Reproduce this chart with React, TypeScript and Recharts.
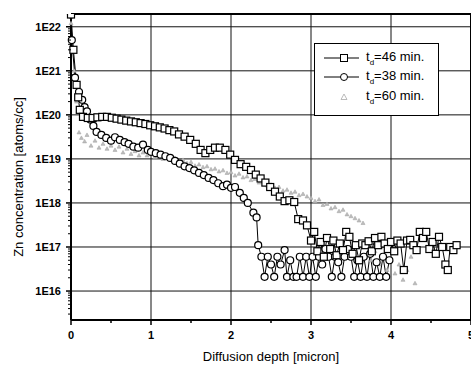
import React from "react";
import { ComposedChart, Line, Scatter, XAxis, YAxis, ReferenceLine, Legend } from "recharts";

// t_d = 46 min (squares)
const depth46 = [
  0, 0.03, 0.07, 0.09, 0.11, 0.15, 0.21, 0.27, 0.33, 0.39, 0.45, 0.51, 0.57, 0.63, 0.69, 0.75,
  0.81, 0.87, 0.93, 0.99, 1.05, 1.11, 1.17, 1.23, 1.29, 1.35, 1.42, 1.49, 1.56, 1.62, 1.68, 1.74,
  1.8, 1.86, 1.93, 1.99, 2.05, 2.12, 2.19, 2.25, 2.31, 2.37, 2.43, 2.49, 2.55, 2.61, 2.67, 2.73,
  2.79, 2.84, 2.9, 2.95, 3.0, 3.04, 3.08, 3.12, 3.16, 3.2, 3.24, 3.28, 3.32, 3.36, 3.4, 3.44,
  3.48, 3.52, 3.56, 3.6, 3.64, 3.68, 3.72, 3.76, 3.8, 3.84, 3.88, 3.92, 3.96, 4.0, 4.04, 4.08,
  4.12, 4.16, 4.2, 4.24, 4.28, 4.32, 4.36, 4.4, 4.44, 4.48, 4.52, 4.56, 4.6, 4.64, 4.68, 4.71,
  4.74, 4.78, 4.82,
];
const conc46 = [
  1.9e22, 3e21, 4.8e20, 2.5e20, 1.3e20, 9e19, 8.5e19, 8.5e19, 8.8e19, 9e19, 9e19, 8.6e19, 8.2e19, 7.8e19, 7.4e19, 7.1e19,
  6.8e19, 6.5e19, 6.2e19, 5.8e19, 5.5e19, 5.2e19, 4.9e19, 4.5e19, 4.2e19, 3.6e19, 3.2e19, 2.7e19, 2.2e19, 1.6e19, 1.35e19, 1.6e19,
  1.8e19, 1.8e19, 1.6e19, 1.25e19, 9.5e18, 7.6e18, 6.6e18, 5.6e18, 4.4e18, 3.6e18, 2.9e18, 2.3e18, 1.8e18, 1.4e18, 1.1e18, 1.15e18,
  1.05e18, 4.3e17, 4e17, 3.1e17, 1.4e17, 2.2e17, 8e16, 1.3e17, 6e16, 1.6e17, 9e16, 1.4e17, 6.5e16, 1.2e17, 8.5e16, 2.2e17,
  1.7e17, 7e16, 1.1e17, 5e16, 1.2e17, 1.1e17, 1.35e17, 8e16, 1.6e17, 1.1e17, 1.7e17, 1.2e17, 9e16, 1.3e17, 8e16, 1.4e17,
  1.2e17, 3e16, 1.4e17, 1.45e17, 1.1e17, 8.5e16, 2.2e17, 1.6e17, 2.2e17, 9e16, 1.3e17, 7e16, 1.7e17, 1e17, 4e16, 3e16,
  1e17, 8.5e16, 1.1e17,
];

// t_d = 38 min (circles)
const depth38 = [
  0, 0.01, 0.05, 0.1, 0.14, 0.17, 0.2, 0.24, 0.28, 0.32, 0.38, 0.44, 0.5, 0.55, 0.61, 0.67,
  0.72, 0.78, 0.84, 0.9, 0.96, 1.0, 1.06, 1.12, 1.18, 1.24, 1.3, 1.36, 1.42, 1.48, 1.54, 1.6,
  1.66, 1.72, 1.78, 1.84, 1.9, 1.95, 2.0, 2.05, 2.11, 2.16, 2.21, 2.28, 2.32, 2.34, 2.38, 2.42,
  2.46, 2.5, 2.54, 2.58, 2.62, 2.67, 2.7, 2.74, 2.78, 2.82, 2.86, 2.9, 2.94, 2.98, 3.02, 3.06,
  3.1, 3.14, 3.18, 3.22, 3.26, 3.3, 3.34, 3.38, 3.42, 3.46, 3.5, 3.54, 3.58, 3.62, 3.66, 3.7,
  3.74, 3.78, 3.82, 3.86, 3.9, 3.94, 3.98,
];
const conc38 = [
  1.9e22, 5e21, 7e20, 3.3e20, 2.2e20, 1.5e20, 1.2e20, 7.8e19, 5.6e19, 4.1e19, 3.5e19, 3e19, 2.6e19, 3.1e19, 2.7e19, 2.4e19,
  2.2e19, 1.9e19, 1.8e19, 2.1e19, 1.6e19, 1.45e19, 1.35e19, 1.25e19, 1.15e19, 1.05e19, 9e18, 7.8e18, 6.8e18, 6.2e18, 5.5e18, 4.8e18,
  4.3e18, 3.7e18, 3.3e18, 2.8e18, 2.4e18, 2.6e18, 2.2e18, 2.3e18, 1.7e18, 1.3e18, 1e18, 6e17, 4.7e17, 1.1e17, 6e16, 2.1e16,
  6e16, 4e16, 2.1e16, 6e16, 4e16, 8.5e16, 2.1e16, 5e16, 2.1e16, 2.1e16, 6e16, 2.1e16, 6e16, 2.1e16, 6e16, 2.1e16,
  6e16, 4e16, 9e16, 6e16, 2.1e16, 6e16, 4.5e16, 2.1e16, 6e16, 9e16, 6e16, 2.1e16, 5e16, 2.1e16, 6e16, 2.1e16,
  7e16, 2.1e16, 4.5e16, 2.1e16, 6e16, 2.1e16, 5e16,
];

// t_d = 60 min (triangles)
const depth60 = [
  0, 0.02, 0.04, 0.07, 0.1, 0.13, 0.17, 0.2, 0.25, 0.3, 0.35, 0.4, 0.45, 0.5, 0.55, 0.6,
  0.65, 0.7, 0.75, 0.8, 0.85, 0.9, 0.95, 1.0, 1.05, 1.1, 1.15, 1.2, 1.25, 1.3, 1.35, 1.4,
  1.45, 1.5, 1.55, 1.6, 1.65, 1.7, 1.75, 1.8, 1.85, 1.9, 1.95, 2.0, 2.05, 2.1, 2.15, 2.2,
  2.25, 2.3, 2.35, 2.4, 2.45, 2.5, 2.55, 2.6, 2.65, 2.7, 2.75, 2.8, 2.85, 2.9, 2.95, 3.0,
  3.05, 3.1, 3.15, 3.2, 3.25, 3.3, 3.35, 3.4, 3.45, 3.5, 3.55, 3.6, 3.65, 3.7, 3.75, 3.8,
  3.85, 3.9, 3.95, 4.0, 4.05, 4.1, 4.15, 4.2, 4.25, 4.3,
];
const conc60 = [
  1.2e22, 5e21, 1e21, 2e20, 4e19, 3e19, 2.5e19, 3.5e19, 2e19, 2.6e19, 1.8e19, 2.2e19, 1.7e19, 2e19, 1.6e19, 1.9e19,
  1.4e19, 1.7e19, 1.3e19, 1.5e19, 1.2e19, 1.4e19, 1.2e19, 1.3e19, 1.1e19, 1.25e19, 1e19, 1.15e19, 9.5e18, 1.05e19, 8.5e18, 9.5e18,
  8e18, 8.5e18, 7e18, 7.5e18, 6.5e18, 6.8e18, 5.8e18, 6e18, 5.2e18, 5.5e18, 4.8e18, 5e18, 4.2e18, 4.6e18, 3.8e18, 4e18,
  3.3e18, 3.5e18, 2.9e18, 3e18, 2.5e18, 2.6e18, 2.2e18, 2.3e18, 1.9e18, 2e18, 1.7e18, 1.8e18, 1.5e18, 1.6e18, 1.4e18, 1.3e18,
  1.1e18, 1.2e18, 9e17, 9.5e17, 7.5e17, 8e17, 6.5e17, 7e17, 5.5e17, 5e17, 4.5e17, 4e17, 3.5e17, 7e16, 5e16, 8e16,
  4e16, 6e16, 3e16, 5e16, 2.5e16, 4e16, 1.8e16, 3e16, 6e16, 1.5e16,
];

const xTicks = [0, 0.5, 1, 1.5, 2, 2.5, 3, 3.5, 4, 4.5, 5];
const xGrid = [1, 2, 3, 4];
const yDecades = [1e16, 1e17, 1e18, 1e19, 1e20, 1e21, 1e22];

const Y_MIN = 2.2e15;
const Y_MAX = 1.95e22;

const yTicks: number[] = [];
for (let n = 15; n <= 22; n++) {
  for (let k = 1; k <= 9; k++) {
    const v = k * Math.pow(10, n);
    if (v >= Y_MIN && v <= Y_MAX) yTicks.push(v);
  }
}

const zip = (xs: number[], ys: number[]) => xs.map((x, i) => ({ x, v: ys[i] }));
const data46 = zip(depth46, conc46);
const data38 = zip(depth38, conc38);
const data60 = zip(depth60, conc60);

const YTick = (props: any) => {
  const { x, y, payload } = props;
  const lg = Math.log10(payload.value);
  const major = Math.abs(lg - Math.round(lg)) < 1e-6;
  const ax = x + 10;
  return (
    <g>
      <line x1={ax - (major ? 5 : 3)} x2={ax} y1={y} y2={y} stroke="#000" strokeWidth={major ? 1.5 : 1} />
      {major && (
        <text x={x} y={y} dy="0.35em" textAnchor="end" fontSize={11} fontWeight="bold" fill="#000">
          {`1E${Math.round(lg)}`}
        </text>
      )}
    </g>
  );
};

const XTick = (props: any) => {
  const { x, y, payload } = props;
  const major = Number.isInteger(payload.value);
  const ay = y - 11;
  return (
    <g>
      <line x1={x} x2={x} y1={ay} y2={ay + (major ? 5 : 3)} stroke="#000" strokeWidth={1.5} />
      {major && (
        <text x={x} y={y} dy="0.71em" textAnchor="middle" fontSize={11} fontWeight="bold" fill="#000">
          {payload.value}
        </text>
      )}
    </g>
  );
};

const SquareDot = (p: any) => (
  <rect key={`s${p.index}`} x={p.cx - 3.5} y={p.cy - 3.5} width={7} height={7} fill="#fff" stroke="#000" strokeWidth={1.2} />
);

const CircleDot = (p: any) => (
  <circle key={`c${p.index}`} cx={p.cx} cy={p.cy} r={3.5} fill="#fff" stroke="#000" strokeWidth={1.2} />
);

const TriangleShape = (p: any) => (
  <path d={`M${p.cx},${p.cy - 2} L${p.cx + 2},${p.cy + 1.5} L${p.cx - 2},${p.cy + 1.5} Z`} fill="#bdbdbd" stroke="#a8a8a8" strokeWidth={0.6} />
);

const legendRows = [
  { label: "=46 min.", kind: "square" },
  { label: "=38 min.", kind: "circle" },
  { label: "=60 min.", kind: "triangle" },
];

const LegendBox = () => (
  <div
    style={{
      width: 123,
      height: 67,
      border: "1px solid #000",
      background: "#fff",
      paddingTop: 4,
      boxSizing: "content-box",
      fontSize: 13,
      color: "#000",
    }}
  >
    {legendRows.map((r) => (
      <div key={r.label} style={{ display: "flex", alignItems: "center", height: 19.5 }}>
        <svg width={50} height={14} style={{ flex: "none" }}>
          {r.kind !== "triangle" && <line x1={9} x2={44} y1={7} y2={7} stroke="#000" strokeWidth={1} />}
          {r.kind === "square" && <rect x={25.5} y={3.5} width={7} height={7} fill="#fff" stroke="#000" />}
          {r.kind === "circle" && <circle cx={29} cy={7} r={3.5} fill="#fff" stroke="#000" />}
          {r.kind === "triangle" && (
            <path d="M29,4 L32,9.5 L26,9.5 Z" fill="none" stroke="#aaa" strokeWidth={0.8} />
          )}
        </svg>
        <span style={{ marginLeft: 1, whiteSpace: "nowrap" }}>
          t<sub style={{ fontSize: 8 }}>d</sub>
          {r.label}
        </span>
      </div>
    ))}
  </div>
);

export default function App() {
  return (
    <div
      style={{
        position: "absolute",
        left: 0,
        top: 0,
        width: 471,
        height: 365,
        background: "#fff",
        fontFamily: "'Liberation Sans', Arial, sans-serif",
      }}
    >
      <ComposedChart width={471} height={365} margin={{ top: 14, right: 0, bottom: 0, left: 0 }}>
        <XAxis
          dataKey="x"
          type="number"
          domain={[0, 5]}
          ticks={xTicks}
          interval={0}
          height={45}
          tickSize={5}
          tickMargin={6}
          tickLine={false}
          tick={<XTick />}
          axisLine={{ stroke: "#000", strokeWidth: 2 }}
          label={{ value: "Diffusion depth [micron]", position: "insideBottom", offset: 4, fontSize: 13, fill: "#000" }}
        />
        <YAxis
          dataKey="v"
          type="number"
          scale="log"
          domain={[Y_MIN, Y_MAX]}
          allowDataOverflow
          ticks={yTicks}
          interval={0}
          width={71}
          tickSize={5}
          tickMargin={5}
          tickLine={false}
          tick={<YTick />}
          axisLine={{ stroke: "#000", strokeWidth: 2 }}
          label={{
            content: () => (
              <text
                x={18}
                y={177}
                transform="rotate(-90, 18, 177)"
                textAnchor="middle"
                dy="0.35em"
                fontSize={13}
                fill="#000"
              >
                Zn concentration [atoms/cc]
              </text>
            ),
          }}
        />
        {yDecades.map((v) => (
          <ReferenceLine key={`h${v}`} y={v} stroke="#111" strokeWidth={1} />
        ))}
        {xGrid.map((v) => (
          <ReferenceLine key={`v${v}`} x={v} stroke="#111" strokeWidth={1} />
        ))}
        <ReferenceLine y={Y_MAX} stroke="#000" strokeWidth={2} />
        <ReferenceLine x={5} stroke="#000" strokeWidth={2} />
        <Scatter name="60" data={data60} dataKey="v" shape={<TriangleShape />} isAnimationActive={false} />
        <Line
          name="38"
          data={data38}
          dataKey="v"
          type="linear"
          stroke="#000"
          strokeWidth={1}
          dot={CircleDot}
          activeDot={false}
          isAnimationActive={false}
        />
        <Line
          name="46"
          data={data46}
          dataKey="v"
          type="linear"
          stroke="#000"
          strokeWidth={1}
          dot={SquareDot}
          activeDot={false}
          isAnimationActive={false}
        />
        <Legend
          layout="vertical"
          align="center"
          verticalAlign="middle"
          content={<LegendBox />}
          wrapperStyle={{ left: 314, top: 43, width: 125, height: 73 }}
        />
      </ComposedChart>
    </div>
  );
}
